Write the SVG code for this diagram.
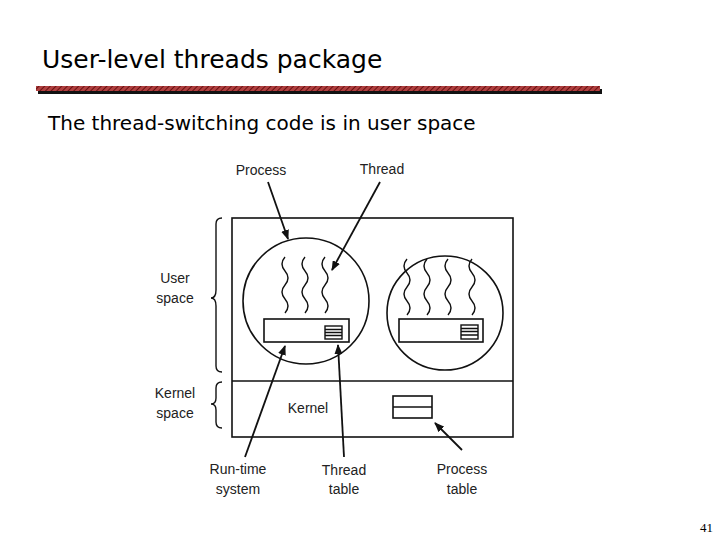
<svg xmlns="http://www.w3.org/2000/svg" width="720" height="540" viewBox="0 0 720 540">
<defs>
<style>
.l{font-family:"Liberation Sans",Arial,sans-serif;font-size:14px;fill:#222;text-anchor:middle}
.s{fill:none;stroke:#111;stroke-width:1.6}
.w{fill:none;stroke:#111;stroke-width:1.4}
.a{stroke:#111;stroke-width:1.8;fill:none;marker-end:url(#ah)}
</style>
<marker id="ah" markerWidth="10" markerHeight="8" refX="9" refY="4" orient="auto" markerUnits="userSpaceOnUse"><path d="M0,0L10,4L0,8z" fill="#111"/></marker>
<pattern id="hatch" width="4" height="4" patternUnits="userSpaceOnUse" patternTransform="rotate(45)"><rect width="4" height="4" fill="#b04040"/><line x1="0" y1="0" x2="0" y2="4" stroke="#6a1010" stroke-width="2"/></pattern>
<path id="wv" d="M0,0 q-6,7 0,14 q6,7 0,14 q-6,7 0,14 q6,7 0,14"/>
</defs>
<rect width="720" height="540" fill="#fff"/>
<g id="title">
<text x="42" y="68" font-family="'DejaVu Sans',sans-serif" font-size="25" fill="#000">User-level threads package</text>
<rect x="38" y="89" width="564" height="5" fill="#111"/>
<rect x="36" y="86" width="564" height="5" fill="url(#hatch)"/>
<text x="48" y="130" font-family="'DejaVu Sans',sans-serif" font-size="20" fill="#000">The thread-switching code is in user space</text>
</g>
<g id="system">
<rect x="232" y="218" width="281" height="219" class="s"/>
<line x1="232" y1="381" x2="513" y2="381" class="s"/>
</g>
<g id="process1">
<circle cx="306" cy="301" r="63" class="s"/>
<use href="#wv" x="285" y="257" class="w"/><use href="#wv" x="305" y="257" class="w"/><use href="#wv" x="325" y="257" class="w"/>
<rect x="264" y="319" width="85" height="23" class="s"/>
<rect x="325" y="326" width="17" height="13" class="w"/>
<path d="M325,329.5h17M325,332.5h17M325,335.5h17" class="w" stroke-width="1"/>
</g>
<g id="process2">
<ellipse cx="445" cy="313" rx="58" ry="57" class="s"/>
<use href="#wv" x="407" y="259" class="w"/><use href="#wv" x="427" y="259" class="w"/><use href="#wv" x="448" y="259" class="w"/><use href="#wv" x="472" y="259" class="w"/>
<rect x="399" y="319" width="84" height="23" class="s"/>
<rect x="461" y="325" width="17" height="14" class="w"/>
<path d="M461,328.5h17M461,331.5h17M461,335h17" class="w" stroke-width="1"/>
</g>
<g id="kernel">
<text x="308" y="413" class="l">Kernel</text>
<rect x="393" y="396" width="39" height="22" class="s"/>
<line x1="393" y1="407" x2="432" y2="407" class="s"/>
</g>
<g id="braces">
<path d="M222,218 q-6,0 -6,6 v66 q0,8 -5,8 q5,0 5,8 v60 q0,6 6,6" class="w" stroke-width="1"/>
<path d="M222,382 q-6,0 -6,6 v10 q0,6 -5,6 q5,0 5,6 v12 q0,6 6,6" class="w" stroke-width="1"/>
<text x="175" y="283" class="l">User</text><text x="175" y="303" class="l">space</text>
<text x="175" y="398" class="l">Kernel</text><text x="175" y="418" class="l">space</text>
</g>
<g id="labels">
<text x="261" y="175" class="l">Process</text>
<text x="382" y="174" class="l">Thread</text>
<text x="238" y="474" class="l">Run-time</text><text x="238" y="494" class="l">system</text>
<text x="344" y="475" class="l">Thread</text><text x="344" y="494" class="l">table</text>
<text x="462" y="474" class="l">Process</text><text x="462" y="494" class="l">table</text>
</g>
<g id="connectors">
<line x1="268" y1="182" x2="288" y2="239" class="a"/>
<line x1="380" y1="182" x2="332" y2="270" class="a"/>
<line x1="245" y1="457" x2="285" y2="346" class="a"/>
<line x1="344" y1="457" x2="338" y2="345" class="a"/>
<line x1="462" y1="450" x2="435" y2="423" class="a"/>
</g>
<text x="700" y="532" font-family="'Liberation Serif',serif" font-size="13" fill="#000">41</text>
</svg>
